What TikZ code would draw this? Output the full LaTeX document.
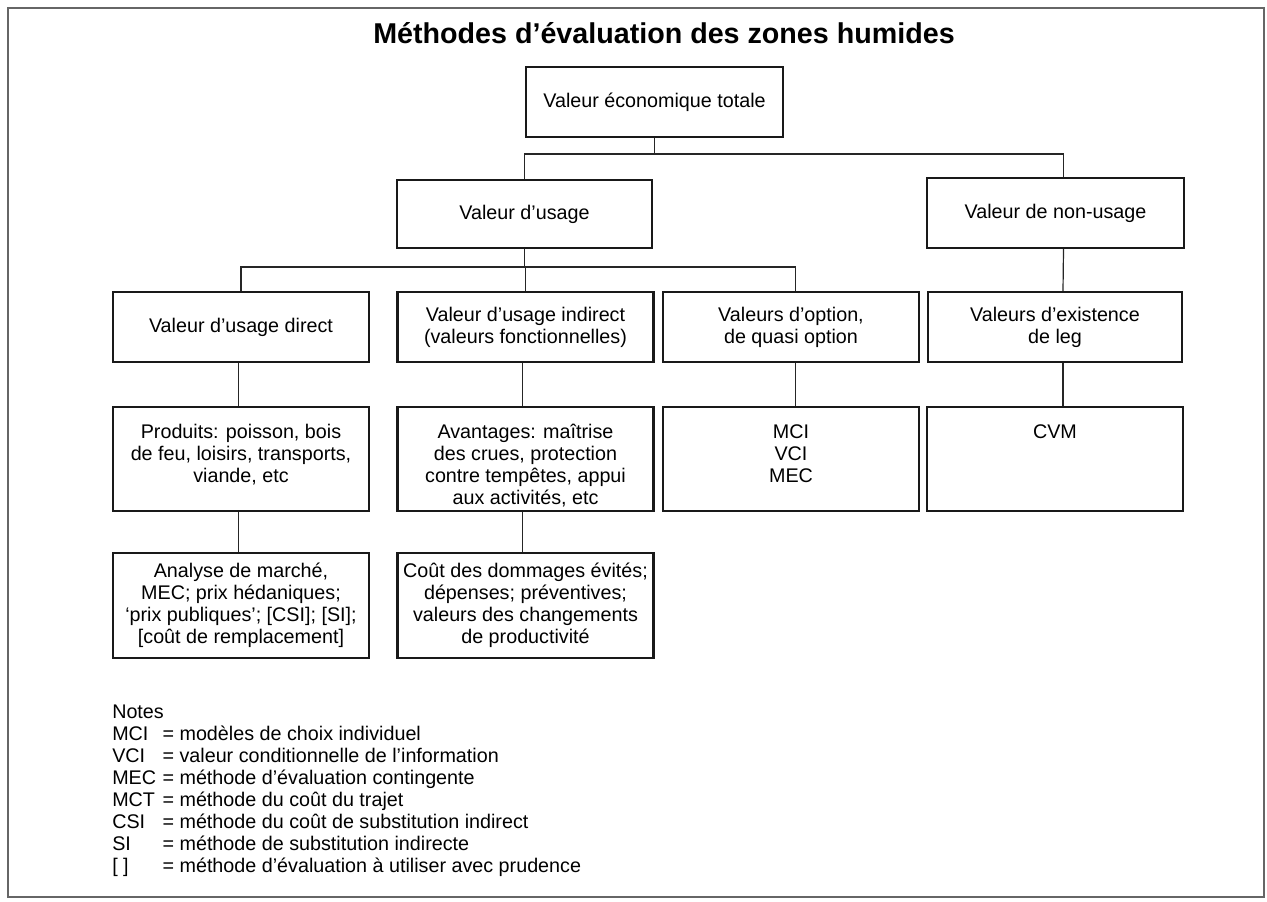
\documentclass[tikz,border=0pt]{standalone}
\usepackage{fontspec}
\setmainfont{Liberation Sans}
\usetikzlibrary{positioning, calc}

% text held at the top of the tall boxes
\newcommand{\toptext}[1]{\parbox[c][52pt][t]{186pt}{\centering #1}}

\begin{document}
\begin{tikzpicture}[
    x=0.75pt, y=-0.75pt,
    font=\fontsize{14.8pt}{16.5pt}\selectfont,
    box/.style={rectangle, draw=black!90, line width=1.7pt, minimum width=192pt, minimum height=52.5pt, align=center, inner sep=3pt},
    tallbox/.style={box, minimum height=78pt, inner ysep=13pt},
    link/.style={draw=black!85, line width=0.9pt},
    frame/.style={draw=black!60, line width=1.1pt}
]
\useasboundingbox (0,0) rectangle (1267,901);
\draw[frame] (8,8) rectangle (1264,897);

\node[font=\fontsize{21.5pt}{24pt}\selectfont\bfseries] (titre) at (664,33) {Méthodes d’évaluation des zones humides};

% first levels
\node[box, minimum width=192.75pt] (totale) at (654.5,102) {Valeur économique totale};
\node[box, minimum width=191.25pt, minimum height=51pt] (usage) at (524.5,214) {Valeur d’usage};
\node[box, minimum width=192.75pt] (nonusage) at (1055.5,213) {Valeur de non-usage};

% kinds of value
\node[box] (direct) at (241,327) {Valeur d’usage direct};
\node[box] (indirect) at (525.5,327) {Valeur d’usage indirect\\(valeurs fonctionnelles)};
\node[box] (option) at (791,327) {Valeurs d’option,\\de quasi option};
\node[box, minimum width=190.5pt] (existence) at (1055,327) {Valeurs d’existence\\de leg};

% goods and methods
\node[tallbox] (produits) at (241,459) {\toptext{Produits: poisson, bois\\de feu, loisirs, transports,\\viande, etc}};
\node[tallbox] (avantages) at (525.5,459) {\toptext{Avantages: maîtrise\\des crues, protection\\contre tempêtes, appui\\aux activités, etc}};
\node[tallbox] (mci) at (791,459) {\toptext{MCI\\VCI\\MEC}};
\node[tallbox, minimum width=190.5pt] (cvm) at (1055,459) {\toptext{CVM}};

\node[box, minimum height=78.75pt] (analyse) at (241,605.5) {Analyse de marché,\\MEC; prix hédaniques;\\‘prix publiques’; [CSI]; [SI];\\{[coût de remplacement]}};
\node[box, minimum height=78.75pt] (cout) at (525.5,605.5) {Coût des dommages évités;\\dépenses; préventives;\\valeurs des changements\\de productivité};

% connectors
\coordinate (bus1) at (654.5,154);
\coordinate (bus2) at (524.5,267);
\draw[link] (totale.south) -- (bus1) -| ([xshift=6pt]nonusage.north);
\draw[link] (bus1) -| (usage.north);
\draw[link] (usage.south) -- (bus2) -| (direct.north);
\draw[link] (bus2) -| (indirect.north);
\draw[link] (bus2) -| ([xshift=3.5pt]option.north);
\draw[link] ([xshift=6pt]nonusage.south) -- ([xshift=6pt]existence.north);
\draw[link] ([xshift=6pt]existence.south) -- ([xshift=6pt]cvm.north);
\draw[link] ([xshift=3.5pt]option.south) -- ([xshift=3.5pt]mci.north);
\foreach \a/\b in {direct/produits, indirect/avantages, produits/analyse, avantages/cout}
  \draw[link] ([xshift=-2pt]\a.south) -- ([xshift=-2pt]\b.north);

\node[anchor=north west, align=left, inner sep=0pt] (notes) at (112,705) {Notes\\
  \makebox[2.55em][l]{MCI}= modèles de choix individuel\\
  \makebox[2.55em][l]{VCI}= valeur conditionnelle de l’information\\
  \makebox[2.55em][l]{MEC}= méthode d’évaluation contingente\\
  \makebox[2.55em][l]{MCT}= méthode du coût du trajet\\
  \makebox[2.55em][l]{CSI}= méthode du coût de substitution indirect\\
  \makebox[2.55em][l]{SI}= méthode de substitution indirecte\\
  \makebox[2.55em][l]{[ ]}= méthode d’évaluation à utiliser avec prudence};

\end{tikzpicture}
\end{document}
